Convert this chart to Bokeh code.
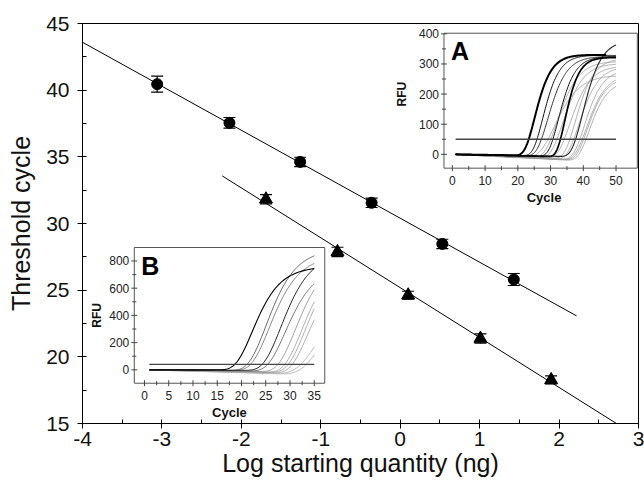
import numpy as np
from bokeh.plotting import figure
from bokeh.models import (Range1d, SingleIntervalTicker, Whisker, TeeHead, ColumnDataSource)
from bokeh.core.properties import value
from bokeh.embed import file_html
from bokeh.resources import INLINE

# ---------------- main chart data ----------------
circle_x = [-3.06, -2.15, -1.26, -0.36, 0.53, 1.43]
circle_y = [40.45, 37.55, 34.62, 31.55, 28.47, 25.80]
circle_err = [0.60, 0.40, 0.35, 0.35, 0.35, 0.45]
triangle_x = [-1.69, -0.79, 0.10, 1.01, 1.90]
triangle_y = [31.82, 27.87, 24.62, 21.37, 18.27]
triangle_err = [0.35, 0.35, 0.30, 0.35, 0.30]
circle_fit_span = [-4.0, 2.22]
triangle_fit_span = [-2.24, 2.80]
x_ticks = [-4, -3, -2, -1, 0, 1, 2, 3]
y_ticks = [15, 20, 25, 30, 35, 40, 45]
x_title = "Log starting quantity (ng)"
y_title = "Threshold cycle"

# ---------------- inset A data (amplification curves) ----------------
a_threshold = 50
a_threshold_span = [1, 50]
a_ct = [23.2, 25.7, 27.0, 30.5, 32.8, 37.4, 28.6, 29.6, 31.4, 33.6, 35.4, 36.4, 38.3, 38.9, 39.4, 40.0]
a_plateau = [338, 338, 336, 336, 334, 392, 285, 330, 325, 318, 342, 320, 308, 295, 284, 275]
a_rate = [0.34, 0.34, 0.30, 0.34, 0.40, 0.30, 0.22, 0.26, 0.27, 0.27, 0.30, 0.28, 0.30, 0.28, 0.30, 0.30]
a_dip = [4, 5, 6, 7, 8, 8, 12, 12, 14, 15, 15, 18, 18, 20, 20, 22]
a_last_cycle = [47, 50, 50, 50, 50, 50, 50, 50, 50, 50, 50, 50, 50, 50, 50, 50]
a_xticks = [0, 10, 20, 30, 40, 50]
a_xminor = [5, 15, 25, 35, 45]
a_yticks = [0, 100, 200, 300, 400]
a_yminor = [50, 150, 250, 350]

# ---------------- inset B data ----------------
b_threshold = 40
b_threshold_span = [1, 35]
b_ct = [18.6, 24.1, 21.0, 21.7, 25.1, 27.1, 28.4, 29.1, 29.8, 31.2, 32.2]
b_plateau = [760, 870, 900, 850, 780, 850, 850, 850, 800, 700, 700]
b_rate = [0.30, 0.28, 0.28, 0.28, 0.28, 0.28, 0.28, 0.28, 0.28, 0.22, 0.22]
b_dip = [0, 5, 5, 5, 10, 15, 20, 20, 25, 30, 35]
b_last_cycle = [35] * 11
b_xticks = [0, 5, 10, 15, 20, 25, 30, 35]
b_xminor = [2.5, 7.5, 12.5, 17.5, 22.5, 27.5, 32.5]
b_yticks = [0, 200, 400, 600, 800]
b_yminor = [100, 300, 500, 700]

# ---------------- styles / layout ----------------
FONT = value("Liberation Sans")
a_colors = ["#000000", "#111111", "#333333", "#111111", "#000000", "#222222"] + ["#9a9a9a"] * 10
a_widths = [2.0, 1.0, 1.0, 1.0, 1.7, 1.1] + [0.8] * 10
b_colors = ["#000000", "#222222", "#555555", "#777777", "#666666", "#888888",
            "#999999", "#999999", "#999999", "#aaaaaa", "#aaaaaa"]
b_widths = [1.1, 1.0, 0.9, 0.9, 0.9, 0.8, 0.8, 0.8, 0.8, 0.8, 0.8]

A_SRC_X, A_SRC_Y = (-2.56, 56.5), (-46, 402)
A_BOX_X, A_BOX_Y = (0.551, 2.985), (34.15, 44.27)
B_SRC_X, B_SRC_Y = (-2.1, 37.16), (-98.5, 899)
B_BOX_X, B_BOX_Y = (-3.348, -0.950), (18.02, 28.2)


def amp_curve(cyc, ct, plateau, rate, threshold, dip):
    L = np.log(plateau / threshold)
    m = ct + np.log(L) / rate
    return plateau * np.exp(-np.exp(-rate * (cyc - m))) - dip * cyc / ct


p = figure(width=644, height=491, x_range=Range1d(-4, 3), y_range=Range1d(15, 45),
           output_backend="svg", toolbar_location=None,
           min_border_left=82, min_border_right=6, min_border_top=23, min_border_bottom=68)
p.xgrid.visible = False
p.ygrid.visible = False
p.outline_line_color = "black"
p.outline_line_width = 1
p.background_fill_color = "white"
p.border_fill_color = "white"

p.xaxis.ticker = SingleIntervalTicker(interval=1, num_minor_ticks=2)
p.yaxis.ticker = SingleIntervalTicker(interval=5, num_minor_ticks=2)
p.xaxis.major_label_overrides = {v: str(v) for v in x_ticks}
p.yaxis.major_label_overrides = {v: str(v) for v in y_ticks}
for ax in (p.xaxis[0], p.yaxis[0]):
    ax.axis_line_color = "black"
    ax.major_tick_line_color = "black"
    ax.minor_tick_line_color = "black"
    ax.major_tick_out = 5
    ax.major_tick_in = 0
    ax.minor_tick_out = 0
    ax.minor_tick_in = 4
    ax.major_label_text_font = "Liberation Sans"
    ax.major_label_text_font_size = "21px"
    ax.major_label_text_color = "#111111"
    ax.axis_label_text_font = "Liberation Sans"
    ax.axis_label_text_font_size = "25px"
    ax.axis_label_text_font_style = "normal"
    ax.axis_label_text_color = "#111111"
p.xaxis.axis_label = x_title
p.yaxis.axis_label = y_title
p.xaxis.major_label_standoff = 3
p.xaxis.axis_label_standoff = 0
p.yaxis.major_label_standoff = 8
p.yaxis.axis_label_standoff = 8

# fit lines from the data
cf = np.polyfit(circle_x, circle_y, 1)
tf = np.polyfit(triangle_x, triangle_y, 1)
p.line(circle_fit_span, np.polyval(cf, circle_fit_span), line_color="black", line_width=1)
p.line(triangle_fit_span, np.polyval(tf, triangle_fit_span), line_color="black", line_width=1)

csrc = ColumnDataSource(dict(x=circle_x, y=circle_y,
                             lo=np.array(circle_y) - np.array(circle_err),
                             hi=np.array(circle_y) + np.array(circle_err)))
tsrc = ColumnDataSource(dict(x=triangle_x, y=triangle_y,
                             lo=np.array(triangle_y) - np.array(triangle_err),
                             hi=np.array(triangle_y) + np.array(triangle_err)))
for src in (csrc, tsrc):
    p.add_layout(Whisker(base="x", lower="lo", upper="hi", source=src, line_color="black",
                         line_width=1.2,
                         lower_head=TeeHead(size=12, line_color="black", line_width=1.2),
                         upper_head=TeeHead(size=12, line_color="black", line_width=1.2)))
p.scatter("x", "y", source=csrc, marker="circle", size=11, fill_color="black", line_color="black")
p.scatter("x", "y", source=tsrc, marker="triangle", size=13, fill_color="black", line_color="black")


def draw_inset(src_x, src_y, box_x, box_y, ct, plat, rate, dip, last, thr, thr_span,
               colors, widths, xt, xm, yt, ym, letter, cycle_label_x, rfu_offset):
    sub = p.subplot(x_source=Range1d(*src_x), y_source=Range1d(*src_y),
                    x_target=Range1d(*box_x), y_target=Range1d(*box_y))
    sub.quad(left=[src_x[0]], right=[src_x[1]], bottom=[src_y[0]], top=[src_y[1]],
             fill_color="white", line_color="#555555", line_width=1)
    order = sorted(range(len(ct)), key=lambda i: widths[i])
    for i in order:
        cyc = np.arange(1, last[i] + 0.001, 0.2)
        yv = amp_curve(cyc, ct[i], plat[i], rate[i], thr, dip[i])
        sub.line(cyc, yv, line_color=colors[i], line_width=widths[i])
    sub.line(thr_span, [thr, thr], line_color="#444444", line_width=1.4)
    # ticks
    sub.scatter(xt, [src_y[0]] * len(xt), marker="dash", angle=np.pi / 2, size=6,
                line_color="#444444")
    sub.scatter(xm, [src_y[0]] * len(xm), marker="dash", angle=np.pi / 2, size=4,
                line_color="#444444")
    sub.scatter([src_x[0]] * len(yt), yt, marker="dash", size=6, line_color="#444444")
    sub.scatter([src_x[0]] * len(ym), ym, marker="dash", size=4, line_color="#444444")
    sub.text(xt, [src_y[0]] * len(xt), text=[str(v) for v in xt], y_offset=12,
             text_align="center", text_baseline="middle", text_font=FONT,
             text_font_size="12px", text_color="#222222")
    sub.text([src_x[0]] * len(yt), yt, text=[str(v) for v in yt], x_offset=-5,
             text_align="right", text_baseline="middle", text_font=FONT,
             text_font_size="12px", text_color="#222222")
    sub.text([cycle_label_x], [src_y[0]], text=["Cycle"], y_offset=29,
             text_align="center", text_baseline="middle", text_font=FONT,
             text_font_size="13px", text_font_style="bold", text_color="#111111")
    sub.text([src_x[0]], [(yt[0] + yt[-1]) / 2], text=["RFU"], x_offset=rfu_offset,
             angle=np.pi / 2, text_align="center", text_baseline="middle", text_font=FONT,
             text_font_size="12px", text_font_style="bold", text_color="#111111")
    sub.text([src_x[0]], [src_y[1]], text=[letter], x_offset=7, y_offset=4,
             text_align="left", text_baseline="top", text_font=FONT,
             text_font_size="25px", text_font_style="bold", text_color="#000000")


draw_inset(A_SRC_X, A_SRC_Y, A_BOX_X, A_BOX_Y, a_ct, a_plateau, a_rate, a_dip, a_last_cycle,
           a_threshold, a_threshold_span, a_colors, a_widths,
           a_xticks, a_xminor, a_yticks, a_yminor, "A", 28, -42)
draw_inset(B_SRC_X, B_SRC_Y, B_BOX_X, B_BOX_Y, b_ct, b_plateau, b_rate, b_dip, b_last_cycle,
           b_threshold, b_threshold_span, b_colors, b_widths,
           b_xticks, b_xminor, b_yticks, b_yminor, "B", 17.5, -37)

open("out.html", "w").write(file_html(p, INLINE))
